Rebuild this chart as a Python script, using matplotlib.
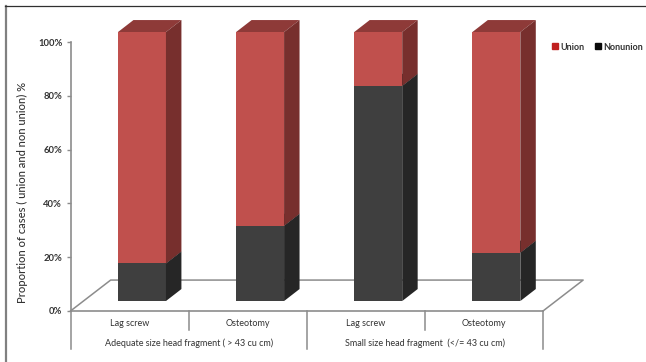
import matplotlib
matplotlib.use('Agg')
import matplotlib.pyplot as plt
from matplotlib.lines import Line2D
from matplotlib.patches import Patch, Polygon

# Percent of cases per group
treatments = ['Lag screw', 'Osteotomy', 'Lag screw', 'Osteotomy']
fragment_groups = ['Adequate size head fragment ( > 43 cu cm)', 'Small size head fragment  (</= 43 cu cm)']
nonunion = [14, 28, 80, 18]
union = [86, 72, 20, 82]
y_ticks = [0, 20, 40, 60, 80, 100]

# 3D look: offsets in data units
BAR_WIDTH = 0.406
BAR_SHIFT = 0.105
BAR_BASE = 3.7
DEPTH_X = 0.131
DEPTH_Y = 4.46
FLOOR_X = 0.34
FLOOR_Y = 11.5

RED = ('#C0504D', '#772F2D', '#8E3A38')
DARK = ('#3F3F3F', '#262626', '#262626')
LINE = '#8C8C8C'
TEXT = '#333333'

W, H = 646, 362
plt.rcParams['font.family'] = ['Lato', 'DejaVu Sans']
fig = plt.figure(figsize=(W / 100, H / 100), dpi=100)
ax = fig.add_axes([70.5 / W, 1 - 311 / H, 472.5 / W, 269 / H])
ax.set_xlim(-0.5, 3.5)
ax.set_ylim(0, 100)
for name in ['top', 'right']:
    ax.spines[name].set_visible(False)
ax.spines['left'].set_color(LINE)
ax.spines['bottom'].set_color(LINE)
ax.spines['left'].set_linewidth(1.2)
ax.spines['bottom'].set_linewidth(1.2)


def segment(i, low, high, colors):
    # one stacked block: front face plus side and top faces
    left = i + BAR_SHIFT - BAR_WIDTH / 2
    right = left + BAR_WIDTH
    y0 = BAR_BASE + low
    y1 = BAR_BASE + high
    ax.bar(left, high - low, width=BAR_WIDTH, bottom=y0, align='edge', color=colors[0], zorder=3, clip_on=False)
    side = [(right, y0), (right + DEPTH_X, y0 + DEPTH_Y), (right + DEPTH_X, y1 + DEPTH_Y), (right, y1)]
    ax.add_patch(Polygon(side, closed=True, fc=colors[1], ec='none', zorder=3, clip_on=False))
    top = [(left, y1), (left + DEPTH_X, y1 + DEPTH_Y), (right + DEPTH_X, y1 + DEPTH_Y), (right, y1)]
    ax.add_patch(Polygon(top, closed=True, fc=colors[2], ec='none', zorder=2.5, clip_on=False))


for i in range(len(treatments)):
    segment(i, 0, nonunion[i], DARK)
    segment(i, nonunion[i], nonunion[i] + union[i], RED)

# floor of the chart, behind the bars
floor_x = [-0.5, -0.5 + FLOOR_X, 3.5 + FLOOR_X, 3.5]
floor_y = [0, FLOOR_Y, FLOOR_Y, 0]
ax.plot(floor_x, floor_y, color=LINE, lw=1.1, zorder=1, clip_on=False)

ax.set_yticks(y_ticks)
ax.set_yticklabels([f'{t}%' for t in y_ticks], fontsize=6.8, fontweight='bold', color=TEXT)
ax.tick_params(axis='y', length=3, width=1, color=LINE, pad=3)
ax.set_xticks([])
ax.set_ylabel('Proportion of cases ( union and non union) %', fontsize=8, fontweight='medium', color=TEXT)
ax.yaxis.set_label_coords(-0.09, 0.44)

# two-level category axis below the floor
for i, name in enumerate(treatments):
    ax.text(i, -4.5, name, ha='center', va='center', fontsize=6.5, color=TEXT, clip_on=False)
for i, name in enumerate(fragment_groups):
    ax.text(0.5 + 2 * i, -11.9, name, ha='center', va='center', fontsize=6.5, color=TEXT, clip_on=False)
for x in [0.5, 2.5]:
    ax.plot([x, x], [0, -7], color=LINE, lw=1.1, clip_on=False)
for x in [-0.5, 1.5, 3.5]:
    ax.plot([x, x], [0, -14], color=LINE, lw=1.1, clip_on=False)

handles = [Patch(color='#C0201F', label='Union'), Patch(color='#0A0A0A', label='Nonunion')]
fig.legend(handles=handles, ncol=2, frameon=False, loc='center left', bbox_to_anchor=(552 / W, 1 - 47 / H),
           fontsize=6.5, handlelength=0.67, handleheight=0.67, handletextpad=0.25, columnspacing=1.2,
           borderpad=0, borderaxespad=0, labelcolor=TEXT, prop={'size': 6.5, 'weight': 'bold'})

# picture frame on the top and left
fig.add_artist(Line2D([5.5 / W, 5.5 / W], [0, 1 - 6 / H], color='#808080', lw=1.6))
fig.add_artist(Line2D([5 / W, 1], [1 - 6 / H, 1 - 6 / H], color='#303030', lw=0.9))

fig.savefig('out.png', dpi=100)
